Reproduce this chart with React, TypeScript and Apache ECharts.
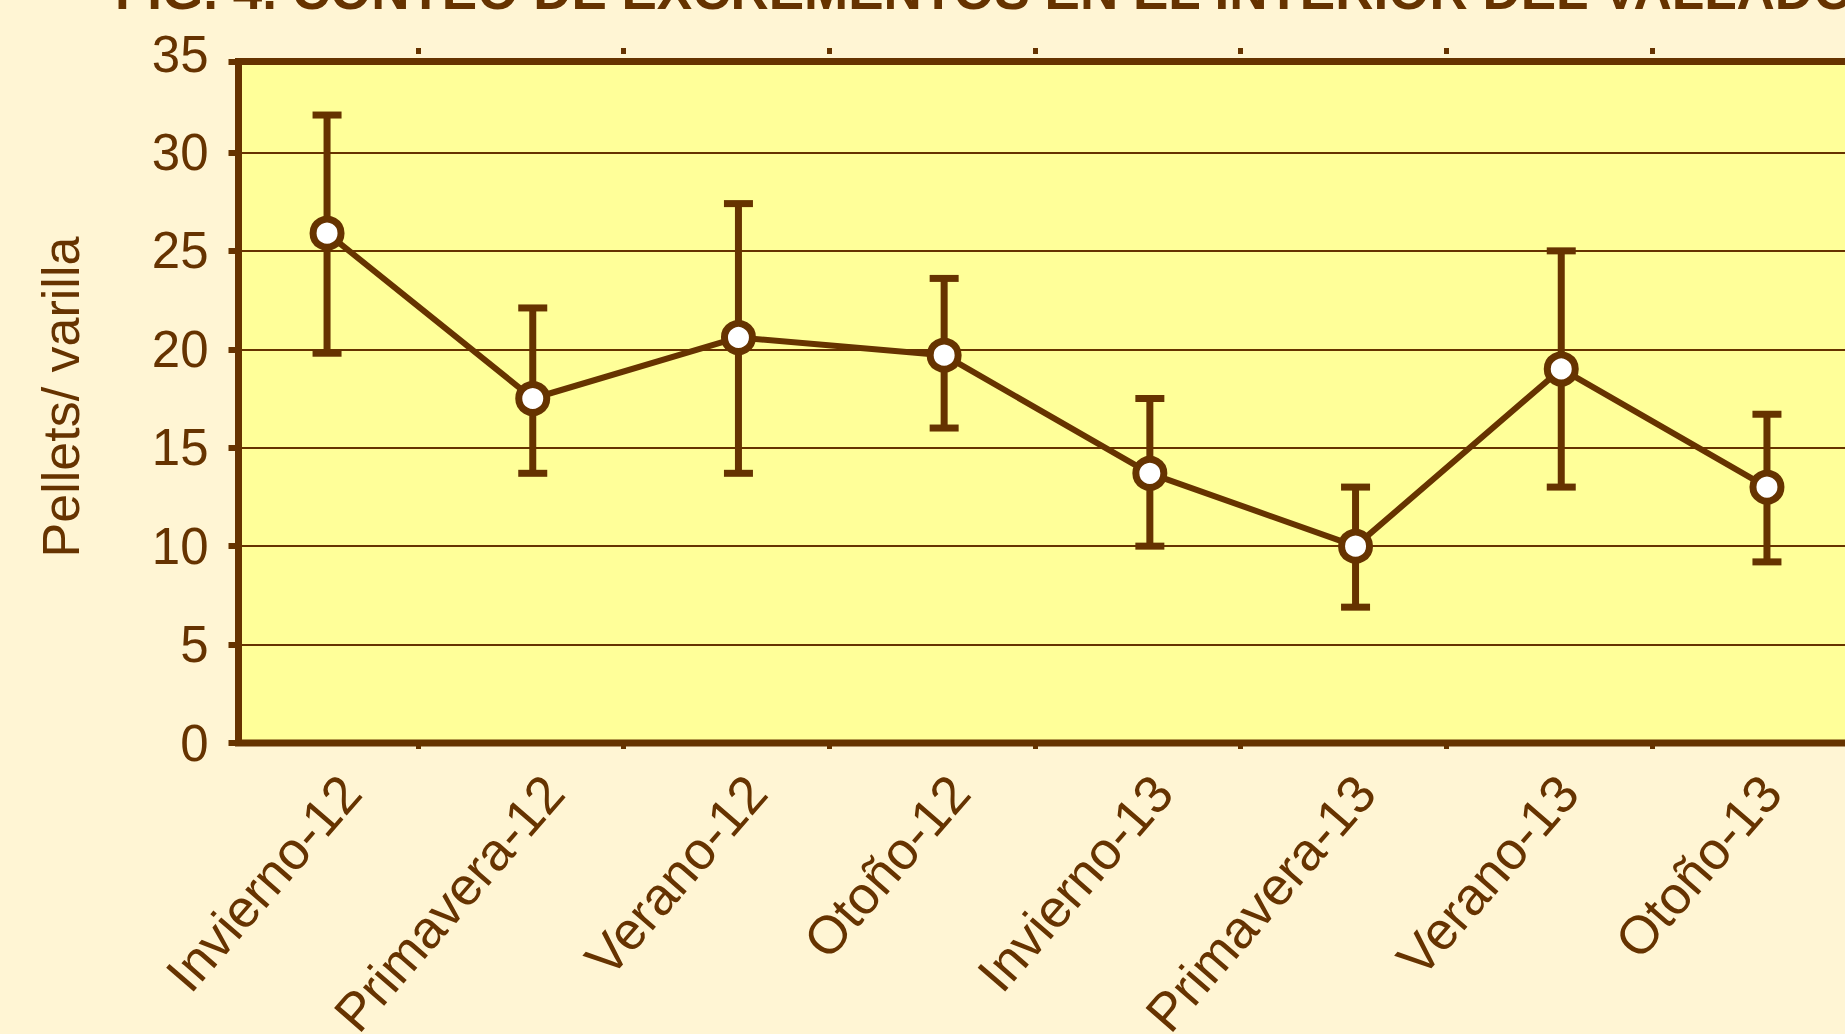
import React, { useEffect, useRef } from "react";
import * as echarts from "echarts";

// ---- data ----
const categories = [
  "Invierno-12",
  "Primavera-12",
  "Verano-12",
  "Otoño-12",
  "Invierno-13",
  "Primavera-13",
  "Verano-13",
  "Otoño-13",
];
const means = [25.9, 17.5, 20.6, 19.7, 13.7, 10.0, 19.0, 13.0];
const lowerBounds = [19.8, 13.7, 13.7, 16.0, 10.0, 6.9, 13.0, 9.2];
const upperBounds = [31.9, 22.1, 27.4, 23.6, 17.5, 13.0, 25.0, 16.7];
const yMin = 0;
const yMax = 35;
const yStep = 5;

const titleText = "FIG. 4. CONTEO DE EXCREMENTOS EN EL INTERIOR DEL VALLADO";
const yAxisTitle = "Pellets/ varilla";

// ---- styling ----
const BROWN = "#663300";
const PLOT_BG = "#FFFF99";
const PAGE_BG = "#FFF5D4";
const FONT = "'Liberation Sans', Arial, Helvetica, sans-serif";

const W = 1845;
const H = 1034;
const BAND = 205.7;
const DATA_LEFT = 224.2;
const DATA_WIDTH = BAND * 8;
const DATA_TOP = 54;
const AXIS_Y = 743;
const DATA_HEIGHT = AXIS_Y - DATA_TOP;
const FRAME_LEFT = 238.5;
const FRAME_TOP = 61.5;
const FRAME_MAX = (yMax * (AXIS_Y - FRAME_TOP)) / DATA_HEIGHT;
const LABEL_BAND = 202.9;
const LABEL_LEFT = 249;

export default function App() {
  const ref = useRef<HTMLDivElement>(null);

  useEffect(() => {
    document.body.style.margin = "0";
    document.body.style.background = PAGE_BG;
    const chart = echarts.init(ref.current!, null, { renderer: "svg" });

    const errData = categories.map((_, i) => [i, lowerBounds[i], upperBounds[i]]);

    const hiddenAxis = {
      axisLine: { show: false },
      axisTick: { show: false },
      axisLabel: { show: false },
      splitLine: { show: false },
    };

    const option: any = {
      animation: false,
      backgroundColor: PAGE_BG,
      textStyle: { fontFamily: FONT },
      grid: [
        // 0: data grid
        {
          left: DATA_LEFT,
          top: DATA_TOP,
          width: DATA_WIDTH,
          height: DATA_HEIGHT,
          containLabel: false,
          outerBoundsMode: "none",
        },
        // 1: x labels grid
        {
          left: LABEL_LEFT,
          top: DATA_TOP,
          width: LABEL_BAND * 8,
          height: DATA_HEIGHT,
          containLabel: false,
          outerBoundsMode: "none",
        },
        // 2: frame grid
        {
          show: true,
          left: FRAME_LEFT,
          top: FRAME_TOP,
          width: W - FRAME_LEFT + 40,
          height: AXIS_Y - FRAME_TOP,
          backgroundColor: PLOT_BG,
          borderColor: BROWN,
          borderWidth: 7,
          containLabel: false,
          outerBoundsMode: "none",
        },
        // 3: category tick grid
        {
          left: DATA_LEFT - 12,
          top: DATA_TOP,
          width: DATA_WIDTH,
          height: DATA_HEIGHT,
          containLabel: false,
          outerBoundsMode: "none",
        },
      ],
      xAxis: [
        { gridIndex: 0, type: "category", data: categories, boundaryGap: true, ...hiddenAxis },
        {
          gridIndex: 1,
          type: "category",
          data: categories,
          boundaryGap: true,
          axisLine: { show: false },
          axisTick: { show: false },
          splitLine: { show: false },
          axisLabel: {
            show: true,
            interval: 0,
            rotate: 49,
            margin: 40,
            color: BROWN,
            fontSize: 53,
            fontFamily: FONT,
          },
        },
        { gridIndex: 2, type: "value", min: 0, max: 1, ...hiddenAxis },
        {
          gridIndex: 3,
          type: "category",
          position: "bottom",
          data: categories,
          boundaryGap: true,
          axisLine: { show: false },
          axisLabel: { show: false },
          splitLine: { show: false },
          axisTick: {
            show: true,
            inside: false,
            length: 6,
            interval: (index: number) => index !== 0,
            lineStyle: { color: BROWN, width: 5 },
          },
        },
        {
          gridIndex: 3,
          type: "category",
          position: "top",
          data: categories,
          boundaryGap: true,
          axisLine: { show: false },
          axisLabel: { show: false },
          splitLine: { show: false },
          axisTick: {
            show: true,
            inside: false,
            length: 6,
            interval: (index: number) => index !== 0,
            lineStyle: { color: BROWN, width: 5 },
          },
        },
      ],
      yAxis: [
        {
          gridIndex: 0,
          type: "value",
          min: yMin,
          max: yMax,
          interval: yStep,
          offset: -(FRAME_LEFT - DATA_LEFT),
          axisLine: { show: false },
          axisTick: { show: false },
          splitLine: { show: false },
          axisLabel: {
            show: true,
            margin: 30,
            color: BROWN,
            fontSize: 51,
            fontFamily: FONT,
            padding: [0, 0, 8, 0],
          },
        },
        { gridIndex: 1, type: "value", min: yMin, max: yMax, ...hiddenAxis },
        {
          gridIndex: 2,
          type: "value",
          min: yMin,
          max: FRAME_MAX,
          interval: yStep,
          axisLine: { show: false },
          axisLabel: { show: false },
          axisTick: {
            show: true,
            inside: false,
            length: 10,
            lineStyle: { color: BROWN, width: 6 },
          },
          splitLine: { show: true, lineStyle: { color: BROWN, width: 2 } },
        },
        { gridIndex: 3, type: "value", min: yMin, max: yMax, ...hiddenAxis },
      ],
      graphic: [
        {
          type: "text",
          left: 115,
          top: -36,
          style: {
            text: titleText,
            fill: BROWN,
            font: `bold 53px ${FONT}`,
          },
          z: 10,
        },
        {
          type: "text",
          x: 61,
          y: 397,
          rotation: Math.PI / 2,
          style: {
            text: yAxisTitle,
            fill: BROWN,
            font: `52px ${FONT}`,
            align: "center",
            verticalAlign: "middle",
          },
          z: 10,
        },
      ],
      series: [
        {
          type: "custom",
          xAxisIndex: 0,
          yAxisIndex: 0,
          data: errData,
          encode: { x: 0, y: [1, 2] },
          z: 3,
          renderItem: (params: any, api: any) => {
            const i = api.value(0);
            const lo = api.coord([i, api.value(1)]);
            const hi = api.coord([i, api.value(2)]);
            const half = 14.5;
            const style = { stroke: BROWN, lineWidth: 7, fill: "none" };
            return {
              type: "group",
              children: [
                { type: "line", shape: { x1: lo[0], y1: lo[1], x2: hi[0], y2: hi[1] }, style },
                { type: "line", shape: { x1: hi[0] - half, y1: hi[1], x2: hi[0] + half, y2: hi[1] }, style },
                { type: "line", shape: { x1: lo[0] - half, y1: lo[1], x2: lo[0] + half, y2: lo[1] }, style },
              ],
            };
          },
        },
        {
          type: "line",
          xAxisIndex: 0,
          yAxisIndex: 0,
          data: means,
          z: 5,
          symbol: "circle",
          symbolSize: 28,
          showSymbol: true,
          lineStyle: { color: BROWN, width: 6 },
          itemStyle: { color: "#FFFFFF", borderColor: BROWN, borderWidth: 7 },
          emphasis: { disabled: true },
        },
      ],
    };

    chart.setOption(option);
    return () => chart.dispose();
  }, []);

  return (
    <div
      ref={ref}
      style={{ position: "fixed", left: 0, top: 0, width: W, height: H, background: PAGE_BG }}
    />
  );
}
